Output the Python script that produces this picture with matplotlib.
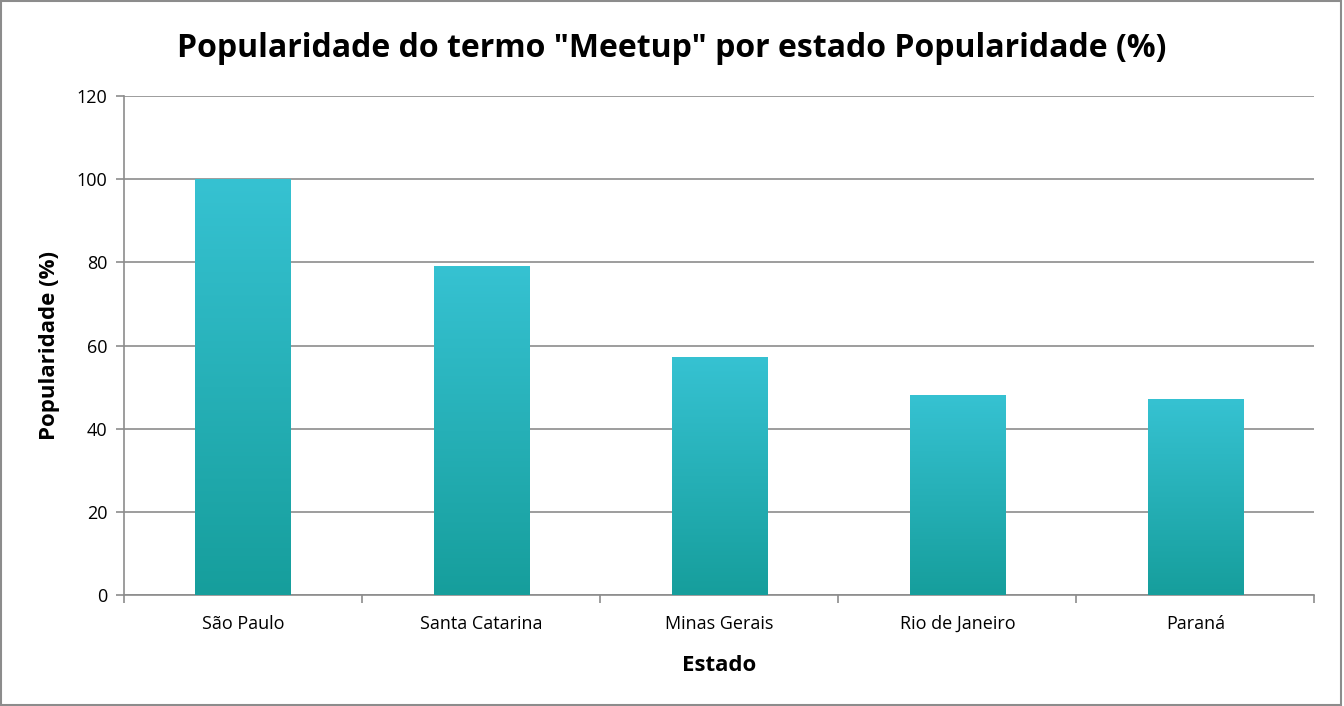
import numpy as np
import matplotlib.pyplot as plt
from matplotlib.colors import LinearSegmentedColormap
from matplotlib.patches import Rectangle

# dados
estados = ["São Paulo", "Santa Catarina", "Minas Gerais", "Rio de Janeiro", "Paraná"]
popularidade = [100, 79, 57, 48, 47]
yticks = [0, 20, 40, 60, 80, 100, 120]

plt.rcParams['font.family'] = ['Open Sans', 'DejaVu Sans']

fig = plt.figure(figsize=(13.44, 7.06), dpi=100)
ax = fig.add_axes([0.0923, 0.157, 0.8857, 0.707])

# gradiente das barras (claro em cima, escuro embaixo)
cmap = LinearSegmentedColormap.from_list('teal', ['#169E9C', '#36C2D2'])
grad = np.linspace(0, 1, 256).reshape(-1, 1)

x = np.arange(len(estados))
bars = ax.bar(x, popularidade, width=0.4, color='none', zorder=3)
for b in bars:
    x0, w, h = b.get_x(), b.get_width(), b.get_height()
    ax.imshow(grad, cmap=cmap, origin='lower', aspect='auto',
              extent=(x0, x0 + w, 0, h), zorder=3)

ax.set_xlim(-0.5, len(estados) - 0.5)
ax.set_ylim(0, 120)
ax.set_yticks(yticks)
ax.yaxis.grid(True, color='#8c8c8c', linewidth=1.2)
ax.set_axisbelow(True)

ax.set_xticks(x)
ax.set_xticklabels(estados, fontsize=13)
ax.set_xticks(np.arange(len(estados) + 1) - 0.5, minor=True)
ax.tick_params(axis='x', which='major', length=0, pad=14)
ax.tick_params(axis='x', which='minor', length=6, color='#8c8c8c', width=1.2)
ax.tick_params(axis='y', length=6, color='#8c8c8c', width=1.2, labelsize=13, pad=6)

for s in ['top', 'right']:
    ax.spines[s].set_visible(False)
for s in ['left', 'bottom']:
    ax.spines[s].set_color('#8c8c8c')
    ax.spines[s].set_linewidth(1.2)

ax.set_xlabel('Estado', fontsize=16, fontweight='bold', labelpad=16)
ax.set_ylabel('Popularidade (%)', fontsize=16, fontweight='bold', labelpad=12)
fig.suptitle('Popularidade do termo "Meetup" por estado Popularidade (%)',
             fontsize=23, fontweight='bold', y=0.955)

# moldura
fig.patches.append(Rectangle((0.001, 0.002), 0.997, 0.996, transform=fig.transFigure,
                             fill=False, edgecolor='#8c8c8c', linewidth=1.5))

fig.savefig('out.png', dpi=100)
